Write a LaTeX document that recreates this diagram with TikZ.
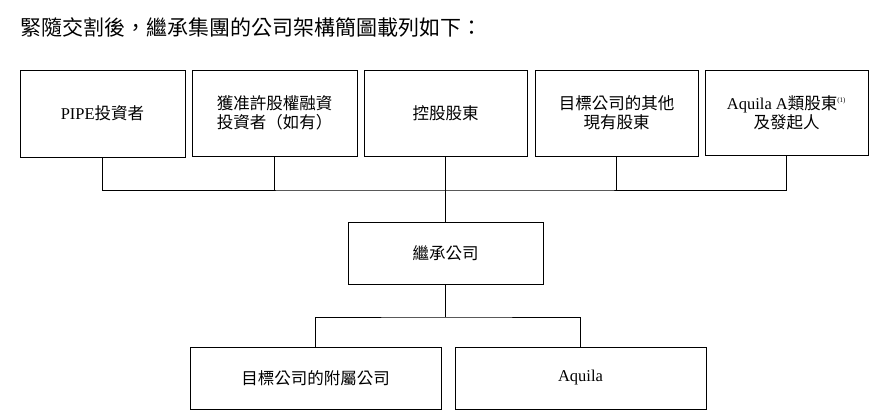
\documentclass[tikz,border=0pt]{standalone}
\usepackage{fontspec}
\setmainfont{Liberation Serif}
\newfontfamily\cjk{Noto Sans CJK TC}
\usetikzlibrary{positioning}

\tikzset{
  entbox/.style={draw, line width=0.9pt, align=center, font=\fontsize{16.5}{19}\selectfont, inner sep=2pt},
  link/.style={line width=0.9pt}
}

\begin{document}
\begin{tikzpicture}[x=1pt, y=-1pt]
  \useasboundingbox (0,0) rectangle (882,416);
  % title
  \node[anchor=west, inner sep=0pt, font=\fontsize{21}{24}\selectfont] (title) at (20,27) {\cjk 緊隨交割後，繼承集團的公司架構簡圖載列如下：};

  % shareholders
  \node[entbox, minimum width=165pt, minimum height=87pt] (b1) at (102.5,113.5) {PIPE\cjk 投資者};
  \node[entbox, minimum width=165pt, minimum height=86pt] (b2) at (274.5,113) {\cjk 獲准許股權融資\\\cjk 投資者（如有）};
  \node[entbox, minimum width=163pt, minimum height=86pt] (b3) at (445.5,113) {\cjk 控股股東};
  \node[entbox, minimum width=163pt, minimum height=86pt] (b4) at (616.5,113) {\cjk 目標公司的其他\\\cjk 現有股東};
  \node[entbox, minimum width=163pt, minimum height=85pt] (b5) at (786.5,112.5) {Aquila A{\cjk 類股東}\textsuperscript{\scriptsize(1)}\\\cjk 及發起人};

  % successor
  \node[entbox, minimum width=195pt, minimum height=62pt] (mid) at (445.5,253) {\cjk 繼承公司};

  % subsidiaries
  \node[entbox, minimum width=251pt, minimum height=62pt] (s1) at (315.5,378) {\cjk 目標公司的附屬公司};
  \node[entbox, minimum width=251pt, minimum height=62pt] (s2) at (580.5,378) {Aquila};

  \coordinate (bus) at (445.5,190);
  \coordinate (bus2) at (445.5,317);
  \draw[link] (b1.south) |- (bus) -| (b5.south);
  \draw[link] (b2.south) -- (b2.south |- bus);
  \draw[link] (b4.south) -- (b4.south |- bus);
  \draw[link] (b3.south) -- (mid.north);
  \draw[link] (mid.south) -- (bus2);
  \draw[link] (s1.north) |- (bus2) -| (s2.north);
\end{tikzpicture}
\end{document}
